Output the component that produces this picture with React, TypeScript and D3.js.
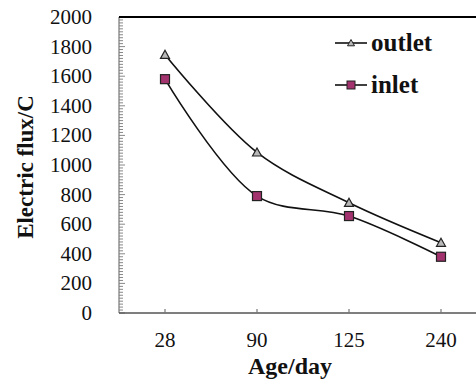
import React from "react";
import * as d3 from "d3";

const categories = ["28", "90", "125", "240"];
const outletValues = [1745, 1085, 745, 475];
const inletValues = [1580, 790, 655, 380];
const yTicks = [0, 200, 400, 600, 800, 1000, 1200, 1400, 1600, 1800, 2000];
const seriesNames = ["outlet", "inlet"];

export default function App() {
  const W = 476, H = 379;
  const left = 119, top = 17, bottom = 313;
  const x = d3.scaleBand().domain(categories).range([left, left + 4 * 92]);
  const y = d3.scaleLinear().domain([0, 2000]).range([bottom, top]);
  const cx = (c: string) => (x(c) as number) + x.bandwidth() / 2;
  const line = d3
    .line<number>()
    .x((_, i) => cx(categories[i]))
    .y((v) => y(v))
    .curve(d3.curveCatmullRom.alpha(0.5));
  const minor = d3.range(0, 2001, 20);
  const font = "Liberation Serif, DejaVu Serif, Times New Roman, serif";
  const tri = (px: number, py: number, s = 4.5) =>
    `M${px},${py - s} L${px + s},${py + s * 0.8} L${px - s},${py + s * 0.8} Z`;
  const legendY = [43, 85];
  return (
    <svg width={W} height={H} style={{ position: "absolute", left: 0, top: 0, background: "#fff" }}>
      {minor.map((v) => (
        <line
          key={"m" + v}
          x1={left}
          x2={left + (v % 200 === 0 ? 6 : 4)}
          y1={y(v)}
          y2={y(v)}
          stroke="#888"
          strokeWidth={1}
        />
      ))}
      <line x1={left} x2={left} y1={top} y2={bottom} stroke="#777" strokeWidth={1.2} />
      <line x1={left} x2={W} y1={bottom} y2={bottom} stroke="#555" strokeWidth={1.5} />
      <line x1={left} x2={W} y1={top} y2={top} stroke="#000" strokeWidth={2} />
      {categories.map((c) => (
        <line key={"xt" + c} x1={cx(c)} x2={cx(c)} y1={bottom} y2={bottom - 4} stroke="#777" strokeWidth={1.2} />
      ))}
      {yTicks.map((v) => (
        <text key={"yl" + v} x={92} y={y(v) + 7} textAnchor="end" style={{ fontFamily: font }} fontSize={21} fill="#111">
          {v}
        </text>
      ))}
      {categories.map((c) => (
        <text key={"xl" + c} x={cx(c)} y={347} textAnchor="middle" style={{ fontFamily: font }} fontSize={21} fill="#111">
          {c}
        </text>
      ))}
      <text
        transform={`translate(33,167) rotate(-90)`}
        textAnchor="middle"
        style={{ fontFamily: font }}
        fontSize={23}
        fontWeight="bold"
        fill="#111"
      >
        Electric flux/C
      </text>
      <text x={290} y={374} textAnchor="middle" style={{ fontFamily: font }} fontSize={24} fontWeight="bold" fill="#111">
        Age/day
      </text>
      <path d={line(outletValues) || ""} fill="none" stroke="#111" strokeWidth={1.6} />
      <path d={line(inletValues) || ""} fill="none" stroke="#111" strokeWidth={1.6} />
      {outletValues.map((v, i) => (
        <path key={"o" + i} d={tri(cx(categories[i]), y(v))} fill="#b8b8b8" stroke="#222" strokeWidth={1.2} />
      ))}
      {inletValues.map((v, i) => (
        <rect
          key={"in" + i}
          x={cx(categories[i]) - 4.5}
          y={y(v) - 4.5}
          width={9}
          height={9}
          fill="#a3336e"
          stroke="#222"
          strokeWidth={1.2}
        />
      ))}
      {seriesNames.map((n, i) => (
        <g key={"lg" + n}>
          <line x1={335} x2={367} y1={legendY[i]} y2={legendY[i]} stroke="#111" strokeWidth={1.6} />
          {i === 0 ? (
            <path d={tri(351, legendY[i], 3.5)} fill="#b8b8b8" stroke="#222" strokeWidth={1} />
          ) : (
            <rect x={347} y={legendY[i] - 4} width={8} height={8} fill="#a3336e" stroke="#222" strokeWidth={1} />
          )}
          <text x={371} y={legendY[i] + 8} style={{ fontFamily: font }} fontSize={25} fontWeight="bold" fill="#111">
            {n}
          </text>
        </g>
      ))}
    </svg>
  );
}
